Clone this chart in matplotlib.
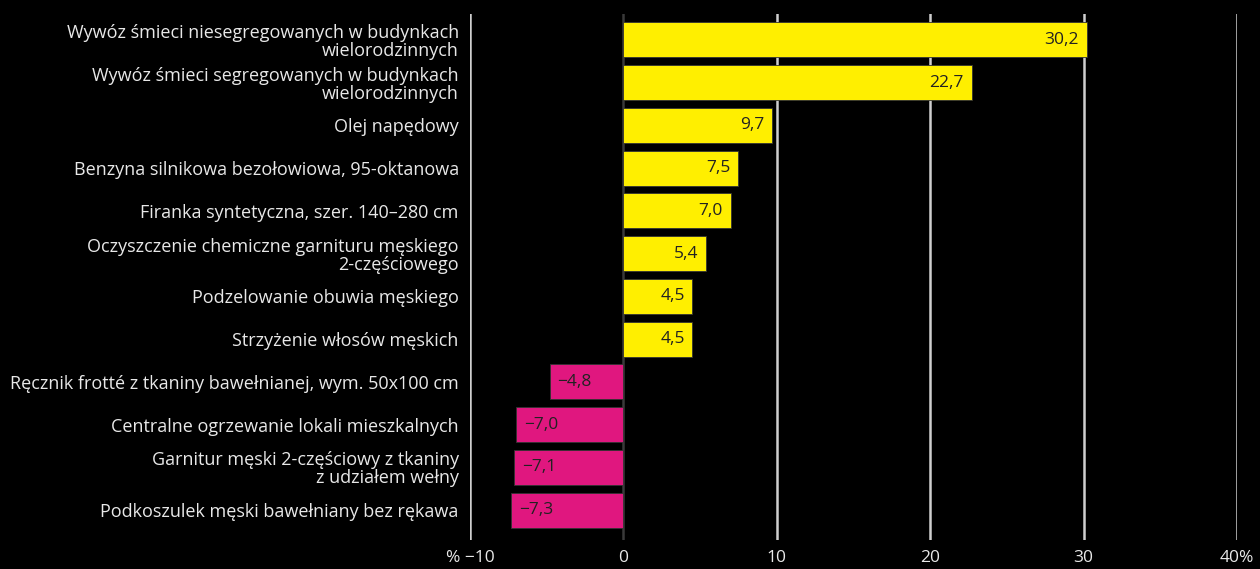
import numpy as np
import matplotlib.pyplot as plt

labels = [
    "Wywóz śmieci niesegregowanych w budynkach\nwielorodzinnych",
    "Wywóz śmieci segregowanych w budynkach\nwielorodzinnych",
    "Olej napędowy",
    "Benzyna silnikowa bezołowiowa, 95-oktanowa",
    "Firanka syntetyczna, szer. 140–280 cm",
    "Oczyszczenie chemiczne garnituru męskiego\n2-częściowego",
    "Podzelowanie obuwia męskiego",
    "Strzyżenie włosów męskich",
    "Ręcznik frotté z tkaniny bawełnianej, wym. 50x100 cm",
    "Centralne ogrzewanie lokali mieszkalnych",
    "Garnitur męski 2-częściowy z tkaniny\nz udziałem wełny",
    "Podkoszulek męski bawełniany bez rękawa",
]
values = [30.2, 22.7, 9.7, 7.5, 7.0, 5.4, 4.5, 4.5, -4.8, -7.0, -7.1, -7.3]
xticks = [-10, 0, 10, 20, 30, 40]
xticklabels = ["% −10", "0", "10", "20", "30", "40%"]

plt.rcParams['font.family'] = ['Open Sans', 'DejaVu Sans']

fig = plt.figure(figsize=(12.6, 5.69), dpi=100, facecolor='black')
ax = fig.add_axes([0.373, 0.051, 0.6087, 0.9246], facecolor='black')

y = np.arange(len(values))
colors = ['#ffef00' if v > 0 else '#e0177f' for v in values]

# gridlines
for t in xticks:
    c = '#3a3a3a' if t == 0 else '#cfcfcf'
    ax.axvline(t, color=c, lw=1.8, zorder=0)

ax.barh(y, values, height=0.82, color=colors, edgecolor='#333333', linewidth=0.6, zorder=2)

for yi, v in zip(y, values):
    txt = f"{v:.1f}".replace('.', ',').replace('-', '−')
    if v > 0:
        ax.text(v - 0.5, yi, txt, ha='right', va='center', fontsize=12.5, color='#222222', zorder=3)
    else:
        ax.text(v + 0.5, yi, txt, ha='left', va='center', fontsize=12.5, color='#222222', zorder=3)

ax.set_xlim(-10, 40)
ax.set_ylim(11.7, -0.61)
ax.set_yticks(y)
ax.set_yticklabels(labels, fontsize=13, color='#e8e8e8', linespacing=1.0)
ax.set_xticks(xticks)
ax.set_xticklabels(xticklabels, fontsize=12.5, color='#e8e8e8')
ax.tick_params(axis='y', length=0, pad=8)
ax.tick_params(axis='x', length=0, pad=7)
for s in ax.spines.values():
    s.set_visible(False)

fig.savefig('out.png', dpi=100, facecolor='black')
